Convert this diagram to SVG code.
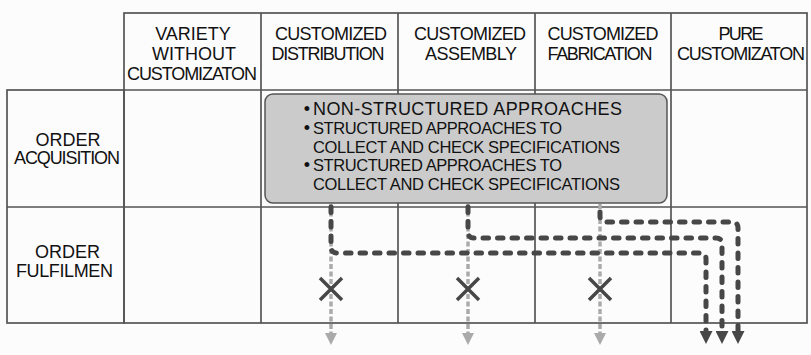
<svg xmlns="http://www.w3.org/2000/svg" width="811" height="355" viewBox="0 0 811 355">
<defs>
<style>
.grid{fill:none;stroke:#555;stroke-width:1.7}
.t{font-family:"Liberation Sans",Arial,Helvetica,sans-serif;font-size:18px;fill:#111;text-anchor:middle}
.tb{font-family:"Liberation Sans",Arial,Helvetica,sans-serif;font-size:18px;fill:#111}
.ts{font-family:"Liberation Sans",Arial,Helvetica,sans-serif;font-size:16.5px;fill:#111}
.bul{font-family:"Liberation Sans",Arial,Helvetica,sans-serif;font-size:18px;fill:#111;text-anchor:middle}
.box{fill:#cbcbcb;stroke:#555;stroke-width:1.5}
.flow{fill:none;stroke:#474747;stroke-width:5;stroke-dasharray:5.5 9;stroke-linecap:round}
.blocked{fill:none;stroke:#aaa;stroke-width:3.5;stroke-dasharray:5 2.5}
.x{stroke:#474747;stroke-width:3.5;fill:none}
</style>
<marker id="ah" viewBox="0 0 13 13" refX="0" refY="6.5" markerWidth="13" markerHeight="13" markerUnits="userSpaceOnUse" orient="auto"><path d="M0,0 L13,6.5 L0,13 z" fill="#474747"/></marker>
<marker id="ahg" viewBox="0 0 12 12" refX="0" refY="6" markerWidth="12" markerHeight="12" markerUnits="userSpaceOnUse" orient="auto"><path d="M0,0 L12,6 L0,12 z" fill="#aaa"/></marker>
</defs>
<rect x="0" y="0" width="811" height="355" fill="#fcfcfc"/>

<g id="grid">
<rect class="grid" x="124" y="13" width="683" height="310"/>
<rect class="grid" x="7" y="90" width="117" height="233"/>
<line class="grid" x1="124" y1="90" x2="807" y2="90"/>
<line class="grid" x1="7" y1="207" x2="807" y2="207"/>
<line class="grid" x1="261" y1="13" x2="261" y2="323"/>
<line class="grid" x1="398" y1="13" x2="398" y2="323"/>
<line class="grid" x1="535" y1="13" x2="535" y2="323"/>
<line class="grid" x1="671" y1="13" x2="671" y2="323"/>
</g>

<g id="hdr-variety">
<text class="t" x="193" y="40">VARIETY</text>
<text class="t" x="194" y="60">WITHOUT</text>
<text class="t" x="192" y="80" textLength="130" lengthAdjust="spacing">CUSTOMIZATON</text>
</g>
<g id="hdr-distribution">
<text class="t" x="331" y="40" textLength="112" lengthAdjust="spacing">CUSTOMIZED</text>
<text class="t" x="328" y="60" textLength="113" lengthAdjust="spacing">DISTRIBUTION</text>
</g>
<g id="hdr-assembly">
<text class="t" x="470" y="40" textLength="112" lengthAdjust="spacing">CUSTOMIZED</text>
<text class="t" x="471" y="60" textLength="92" lengthAdjust="spacing">ASSEMBLY</text>
</g>
<g id="hdr-fabrication">
<text class="t" x="603" y="40" textLength="111" lengthAdjust="spacing">CUSTOMIZED</text>
<text class="t" x="600" y="60" textLength="105" lengthAdjust="spacing">FABRICATION</text>
</g>
<g id="hdr-pure">
<text class="t" x="741" y="40" textLength="45" lengthAdjust="spacing">PURE</text>
<text class="t" x="741" y="60" textLength="128" lengthAdjust="spacing">CUSTOMIZATON</text>
</g>

<g id="row-acquisition">
<text class="t" x="68" y="145.5">ORDER</text>
<text class="t" x="67" y="164" textLength="106" lengthAdjust="spacing">ACQUISITION</text>
</g>
<g id="row-fulfilment">
<text class="t" x="67.5" y="257.5">ORDER</text>
<text class="t" x="64.5" y="277" textLength="97" lengthAdjust="spacing">FULFILMEN</text>
</g>

<g id="approaches">
<rect class="box" x="265" y="94" width="402" height="109" rx="8" ry="8"/>
<text class="bul" x="307" y="115">•</text>
<text class="tb" x="313" y="115" textLength="309" lengthAdjust="spacing">NON-STRUCTURED APPROACHES</text>
<text class="bul" x="307" y="134">•</text>
<text class="ts" x="313" y="134" textLength="249" lengthAdjust="spacing">STRUCTURED APPROACHES TO</text>
<text class="ts" x="313" y="152.5" textLength="307" lengthAdjust="spacing">COLLECT AND CHECK SPECIFICATIONS</text>
<text class="bul" x="307" y="171">•</text>
<text class="ts" x="313" y="171" textLength="249" lengthAdjust="spacing">STRUCTURED APPROACHES TO</text>
<text class="ts" x="313" y="189.5" textLength="307" lengthAdjust="spacing">COLLECT AND CHECK SPECIFICATIONS</text>
</g>

<g id="connectors">
<path class="blocked" d="M331,204 V333" marker-end="url(#ahg)"/>
<path class="blocked" d="M468,204 V333" marker-end="url(#ahg)"/>
<path class="blocked" d="M600,204 V333" marker-end="url(#ahg)"/>
<path class="flow" d="M331,207 V247 Q331,253 337,253 H700 Q706,253 706,259 V331" marker-end="url(#ah)"/>
<path class="flow" d="M468,207 V232 Q468,238 474,238 H716 Q722,238 722,244 V331" marker-end="url(#ah)"/>
<path class="flow" d="M600,212 V216 Q600,222 606,222 H732 Q738,222 738,228 V331" marker-end="url(#ah)"/>
<path class="x" d="M320,278 L342,300 M342,278 L320,300"/>
<path class="x" d="M457,278 L479,300 M479,278 L457,300"/>
<path class="x" d="M589,278 L611,300 M611,278 L589,300"/>
</g>
</svg>
